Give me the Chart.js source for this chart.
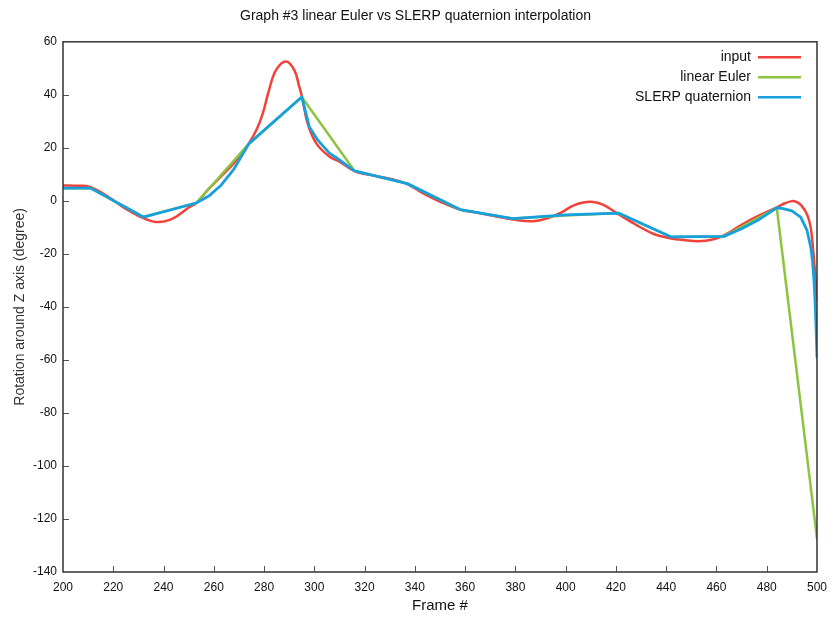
<!DOCTYPE html>
<html>
<head>
<meta charset="utf-8">
<script src="https://cdn.jsdelivr.net/npm/chart.js@4.4.0/dist/chart.umd.min.js"></script>
<style>
  html, body { margin: 0; padding: 0; background: #fff; }
  #wrap { width: 835px; height: 617px; }
</style>
</head>
<body>
<div id="wrap"><canvas id="graph3"></canvas></div>
<script>
// input rotation (samples of the smooth input curve)
const inputFrames = [200, 205, 211, 218, 225, 232, 238, 244, 250, 253, 258, 263, 268, 270, 274, 277, 279.5, 282, 284.8, 288.7, 292, 294, 295.2, 297.3, 300.7, 306, 310, 316, 322, 331, 337, 343, 350, 358, 365, 372, 379, 387, 393, 398, 403, 407, 411, 415, 421, 428, 435, 442, 447, 453, 458, 463, 470, 477, 484, 487, 490, 492, 494, 496, 497.5, 498.5, 499.3, 500];
const inputValues = [5.8, 5.7, 5.2, 1.5, -3, -6.5, -8, -6.5, -2.5, -0.8, 4.5, 9.3, 14.2, 16.7, 21.8, 26.8, 33, 41.9, 49.4, 52.6, 49.4, 43.1, 38.8, 29.3, 21.8, 16.7, 14.8, 11.2, 9.8, 8.2, 6.3, 3, -0.3, -3.3, -4.5, -5.8, -7, -7.7, -6.5, -4.5, -1.8, -0.6, -0.4, -1.5, -5, -9, -12.5, -14.2, -14.8, -15.2, -14.7, -13, -9, -5.5, -2.5, -1, -0.1, -0.5, -2, -5, -10, -19, -28, -37.5];

// linear Euler keyframes
const eulerFrames = [200, 211, 232, 253, 274, 295, 316, 337, 358, 379, 400, 421, 442, 463, 484, 500];
const eulerValues = [4.8, 4.8, -6.1, -0.8, 21.6, 39.2, 11.3, 6.5, -3.3, -6.7, -5.5, -4.6, -13.6, -13.4, -2.6, -127.4];

// SLERP quaternion
const slerpFrames = [200, 211, 232, 253, 258, 263, 268, 274, 295, 298, 301.3, 306, 310, 316, 337, 358, 379, 400, 421, 442, 463, 470, 477, 484, 486.5, 490, 493.5, 496, 497.5, 498.2, 498.8, 499.2, 499.6, 500];
const slerpValues = [4.8, 4.8, -6.1, -0.8, 1.8, 6, 12, 21.6, 39.2, 28, 23, 18, 15.5, 11.3, 6.5, -3.3, -6.7, -5.3, -4.6, -13.6, -13.4, -10.5, -7, -2.6, -2.9, -3.8, -6.1, -11, -17.4, -22.5, -30, -37.5, -47, -59];

const xTicks = { min: 200, max: 500, step: 20 };
const yTicks = { min: -140, max: 60, step: 20 };

function pts(xs, ys) {
    return xs.map((x, i) => ({ x: x, y: ys[i] }));
}

const FONT = '"Liberation Sans", Arial, Helvetica, sans-serif';

// frame box, inward tics and the legend in the top right corner
const framePlugin = {
    id: 'frame',
    afterDraw(chart) {
        const c = chart.ctx;
        const a = chart.chartArea;
        const xs = chart.scales.x, ys = chart.scales.y;
        c.save();
        c.strokeStyle = '#555';
        c.lineWidth = 1;
        for (let v = xTicks.min + xTicks.step; v < xTicks.max; v += xTicks.step) {
            const px = Math.round(xs.getPixelForValue(v)) + 0.5;
            c.beginPath(); c.moveTo(px, a.bottom); c.lineTo(px, a.bottom - 6); c.stroke();
        }
        for (let v = yTicks.min + yTicks.step; v < yTicks.max; v += yTicks.step) {
            const py = Math.round(ys.getPixelForValue(v)) + 0.5;
            c.beginPath(); c.moveTo(a.left, py); c.lineTo(a.left + 6, py); c.stroke();
        }
        c.strokeStyle = '#333';
        c.lineWidth = 1.5;
        c.strokeRect(a.left, a.top, a.right - a.left, a.bottom - a.top);

        // legend
        c.font = '14px ' + FONT;
        c.textAlign = 'right';
        c.textBaseline = 'middle';
        const sets = chart.data.datasets;
        sets.forEach((ds, i) => {
            const y = a.top + 15 + i * 20;
            c.fillStyle = '#111';
            c.fillText(ds.label, a.right - 66, y);
            c.strokeStyle = ds.borderColor;
            c.lineWidth = 2.5;
            c.beginPath(); c.moveTo(a.right - 59, y + 0.5); c.lineTo(a.right - 16, y + 0.5); c.stroke();
        });
        c.restore();
    }
};

const ctx = document.getElementById('graph3');

const data = {
    datasets: [
        {
            label: 'input',
            data: pts(inputFrames, inputValues),
            borderColor: 'rgb(240,66,58)',
            borderWidth: 2.5,
            tension: 0.4,
            order: 3
        },
        {
            label: 'linear Euler',
            data: pts(eulerFrames, eulerValues),
            borderColor: 'rgb(140,196,64)',
            borderWidth: 2.5,
            tension: 0,
            order: 2
        },
        {
            label: 'SLERP quaternion',
            data: pts(slerpFrames, slerpValues),
            borderColor: 'rgb(22,160,222)',
            borderWidth: 2.8,
            tension: 0,
            order: 1
        }
    ]
};

const options = {
    responsive: true,
    maintainAspectRatio: false,
    animation: false,
    elements: { point: { radius: 0 }, line: { borderCapStyle: 'round', borderJoinStyle: 'round' } },
    layout: { padding: { left: 12, right: 16, top: 0, bottom: 0 } },
    plugins: {
        legend: { display: false },
        tooltip: { enabled: false },
        title: {
            display: true,
            text: 'Graph #3 linear Euler vs SLERP quaternion interpolation',
            color: '#111',
            font: { family: FONT, size: 14, weight: 'normal' },
            padding: { top: 8, bottom: 17 }
        }
    },
    scales: {
        x: {
            type: 'linear',
            min: xTicks.min,
            max: xTicks.max,
            grid: { display: false, drawTicks: false },
            border: { display: false },
            ticks: { stepSize: xTicks.step, color: '#111', padding: 8, maxRotation: 0, font: { family: FONT, size: 12 } },
            title: { display: true, text: 'Frame #', color: '#111', font: { family: FONT, size: 15 }, padding: { top: 0, bottom: 2 } },
            afterFit: s => { s.height = 45; }
        },
        y: {
            min: yTicks.min,
            max: yTicks.max,
            grid: { display: false, drawTicks: false },
            border: { display: false },
            ticks: { stepSize: yTicks.step, color: '#111', padding: 6, font: { family: FONT, size: 12 } },
            title: { display: true, text: 'Rotation around Z axis (degree)', color: '#333', font: { family: FONT, size: 14 }, padding: { top: 0, bottom: 0 } },
            afterFit: s => { s.width = 51; }
        }
    }
};

new Chart(ctx, { type: 'line', data: data, options: options, plugins: [framePlugin] });
</script>
</body>
</html>
